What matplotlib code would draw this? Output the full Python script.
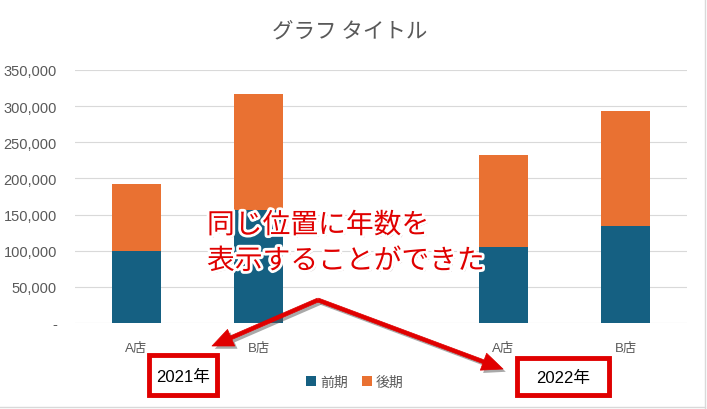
import numpy as np
import matplotlib
matplotlib.use('Agg')
import matplotlib.pyplot as plt
import matplotlib.patheffects as pe
from matplotlib.patches import Rectangle
from matplotlib.lines import Line2D
from matplotlib.ticker import FuncFormatter

plt.rcParams['font.family'] = ['Liberation Sans', 'Noto Sans CJK JP']

# data
categories = ['A店', 'B店', '', 'A店', 'B店']
first_half = [100000, 157000, np.nan, 105000, 134000]    # 前期
second_half = [92000, 160000, np.nan, 127000, 159000]    # 後期
series_names = ['前期', '後期']
year_labels = ['2021年', '2022年']
title = 'グラフ タイトル'
note = '同じ位置に年数を\n表示することができた'

W, H = 707, 410
BLUE = '#156082'
ORANGE = '#E97132'
GRAY = '#595959'
RED = '#E00000'


def fpx(x, y):
    # image pixel -> figure fraction
    return x / W, 1 - y / H


fig = plt.figure(figsize=(W / 100, H / 100), dpi=100)
ax = fig.add_axes([75 / W, 1 - 324 / H, 612 / W, 253 / H])

x = np.arange(len(categories))
first = np.array(first_half, dtype=float)
second = np.array(second_half, dtype=float)
mask = ~np.isnan(first)
ax.bar(x[mask], first[mask], width=0.4, color=BLUE, label=series_names[0], zorder=2)
ax.bar(x[mask], second[mask], width=0.4, bottom=first[mask], color=ORANGE,
       label=series_names[1], zorder=2)

ax.set_xlim(-0.5, len(categories) - 0.5)
ax.set_ylim(0, 350000)
ax.set_yticks(np.arange(0, 350001, 50000))
ax.yaxis.set_major_formatter(FuncFormatter(lambda v, p: '-' if v == 0 else f'{int(v):,}'))
ax.set_xticks(x)
ax.set_xticklabels(categories)
ax.tick_params(axis='x', length=0, labelsize=9.5, colors=GRAY, pad=14)
ax.tick_params(axis='y', length=0, labelsize=10.5, colors=GRAY, pad=13)
ax.grid(axis='y', color='#D9D9D9', lw=0.8, zorder=0)
for s in ax.spines.values():
    s.set_visible(False)

fig.text(*fpx(350, 31), title, ha='center', va='center', fontsize=15.5, color=GRAY,
         family=['Noto Sans CJK JP'])

ax.legend(loc='center', bbox_to_anchor=fpx(355, 383), bbox_transform=fig.transFigure,
          ncol=2, frameon=False, labelcolor=GRAY, handlelength=0.7,
          handleheight=0.7, handletextpad=0.3, columnspacing=1.0,
          prop={'family': ['Noto Sans CJK JP'], 'size': 10})

# chart area border (right / bottom)
fig.add_artist(Line2D([705 / W, 705 / W], [0, 1], color='#D9D9D9', lw=1))
fig.add_artist(Line2D([0, 705 / W], [1 - 408 / H] * 2, color='#D9D9D9', lw=1))

# callout arrows
shadow = [pe.SimplePatchShadow(offset=(2, -2), shadow_rgbFace='#555555', alpha=0.5), pe.Normal()]
for tip in [(212, 347), (503, 370)]:
    ax.annotate('', xy=fpx(*tip), xycoords='figure fraction',
                xytext=fpx(318, 301), textcoords='figure fraction',
                arrowprops=dict(arrowstyle='simple,head_width=1.3,head_length=1.5,tail_width=0.28',
                                fc=RED, ec=RED, lw=0.5, shrinkA=0, shrinkB=0,
                                path_effects=shadow),
                annotation_clip=False)

# year boxes
for (x0, y0, x1, y1), label in zip([(149, 356, 217, 396), (517, 359, 609, 396)], year_labels):
    bx, by = fpx(x0, y1)
    rect = Rectangle((bx, by), (x1 - x0) / W, (y1 - y0) / H, transform=fig.transFigure,
                     fc='white', ec=RED, lw=3.5, zorder=5,
                     path_effects=[pe.SimplePatchShadow(offset=(2, -2), alpha=0.4), pe.Normal()])
    fig.add_artist(rect)
    fig.text(*fpx((x0 + x1) / 2, (y0 + y1) / 2 + 1), label, ha='center', va='center',
             fontsize=12, color='black', zorder=6,
             family=['Liberation Sans', 'Noto Sans CJK JP'])

# red note text with white outline
fig.text(*fpx(207, 244), note, ha='left', va='center', fontsize=20, color=RED,
         linespacing=1.25, family=['Noto Sans CJK JP'], zorder=7,
         path_effects=[pe.SimplePatchShadow(offset=(1.5, -1.5), alpha=0.35),
                       pe.Stroke(linewidth=4, foreground='white'), pe.Normal()])

fig.savefig('out.png', dpi=100)
